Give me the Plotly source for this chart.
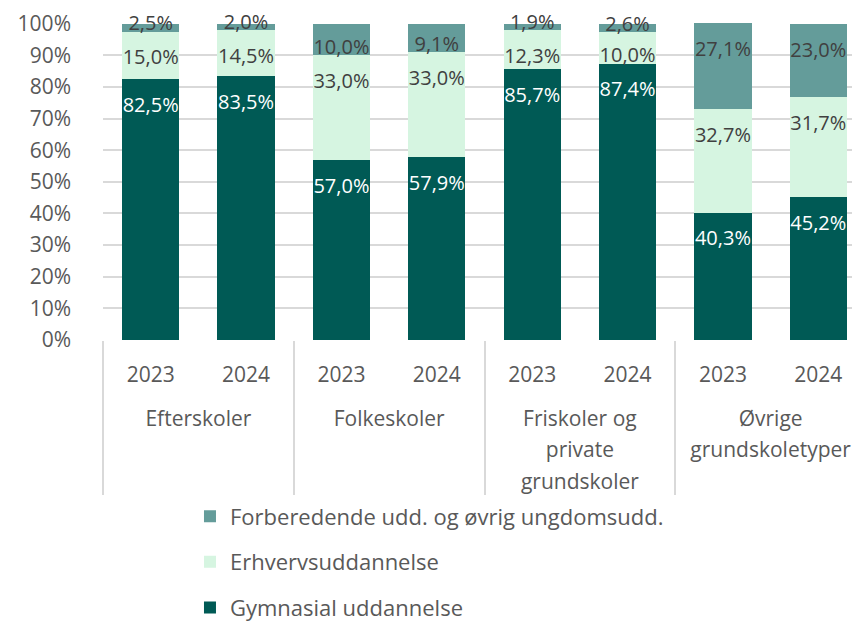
import plotly.graph_objects as go

group_names = ["Efterskoler", "Folkeskoler", "Friskoler og\nprivate\ngrundskoler", "Øvrige\ngrundskoletyper"]
years = ["2023", "2024"]

gymnasial = [82.5, 83.5, 57.0, 57.9, 85.7, 87.4, 40.3, 45.2]
erhverv = [15.0, 14.5, 33.0, 33.0, 12.3, 10.0, 32.7, 31.7]
forbered = [2.5, 2.0, 10.0, 9.1, 1.9, 2.6, 27.1, 23.0]

series = [
    ("Gymnasial uddannelse", gymnasial, "#005A55", "white", 3),
    ("Erhvervsuddannelse", erhverv, "#D6F5E1", "#404040", 2),
    ("Forberedende udd. og øvrig ungdomsudd.", forbered, "#649C9A", "#404040", 1),
]

FONT = "Open Sans"
LBL = 21


def span(s):
    return f"<span style='font-size:{LBL}px'>{s}</span>"


grp_lbl = ["<br>" + "<br>".join(span(l) for l in g.split("\n")) for g in group_names]
x_groups = [g for g in grp_lbl for _ in years]
x_years = [span(y) for _ in group_names for y in years]
xcat = [x_groups, x_years]

fig = go.Figure()
base = [0.0] * len(gymnasial)
label_traces = []
for i, (name, vals, color, tcol, rank) in enumerate(series):
    fig.add_trace(go.Bar(
        x=xcat, y=[v / 100 for v in vals], name=name,
        marker=dict(color=color, line=dict(width=0)),
        legendgroup=f"g{i}", legendrank=rank, hoverinfo="skip",
    ))
    # label placement: near inside end of each segment
    ly = []
    for j, v in enumerate(vals):
        bottom = base[j]
        top = bottom + v / 100
        ly.append(max(top - 0.088, bottom + 0.02))
        base[j] = top
    label_traces.append(go.Scatter(
        x=xcat, y=ly, mode="text",
        text=[f"{v:.1f}%".replace(".", ",") for v in vals],
        textposition="middle center",
        textfont=dict(color=tcol, size=20, family=FONT),
        showlegend=False, hoverinfo="skip", cliponaxis=False,
    ))
for t in label_traces:
    fig.add_trace(t)

fig.update_layout(
    barmode="stack", bargap=0.4,
    width=860, height=624,
    margin=dict(l=95, r=2, t=15, b=292),
    plot_bgcolor="white", paper_bgcolor="white",
    font=dict(family=FONT, size=21, color="#595959"),
    showlegend=True,
    legend=dict(orientation="v", x=0.114, xanchor="left", y=-0.91, yanchor="bottom",
                traceorder="grouped", tracegroupgap=14,
                font=dict(size=22, color="#595959"), itemwidth=30),
)
fig.update_yaxes(range=[0, 1.002], tickvals=[i / 10 for i in range(11)], tickformat=".0%",
                 showgrid=True, gridcolor="#D9D9D9", gridwidth=1.5, zeroline=False,
                 automargin=False, ticklabelstandoff=31,
                 tickfont=dict(size=21, color="#595959"))
fig.update_xaxes(showgrid=False, showline=False, automargin=False,
                 ticklabelstandoff=17,
                 tickfont=dict(size=24, color="#595959"),
                 dividercolor="#D9D9D9", dividerwidth=1.5)

fig.write_html("out.html")
